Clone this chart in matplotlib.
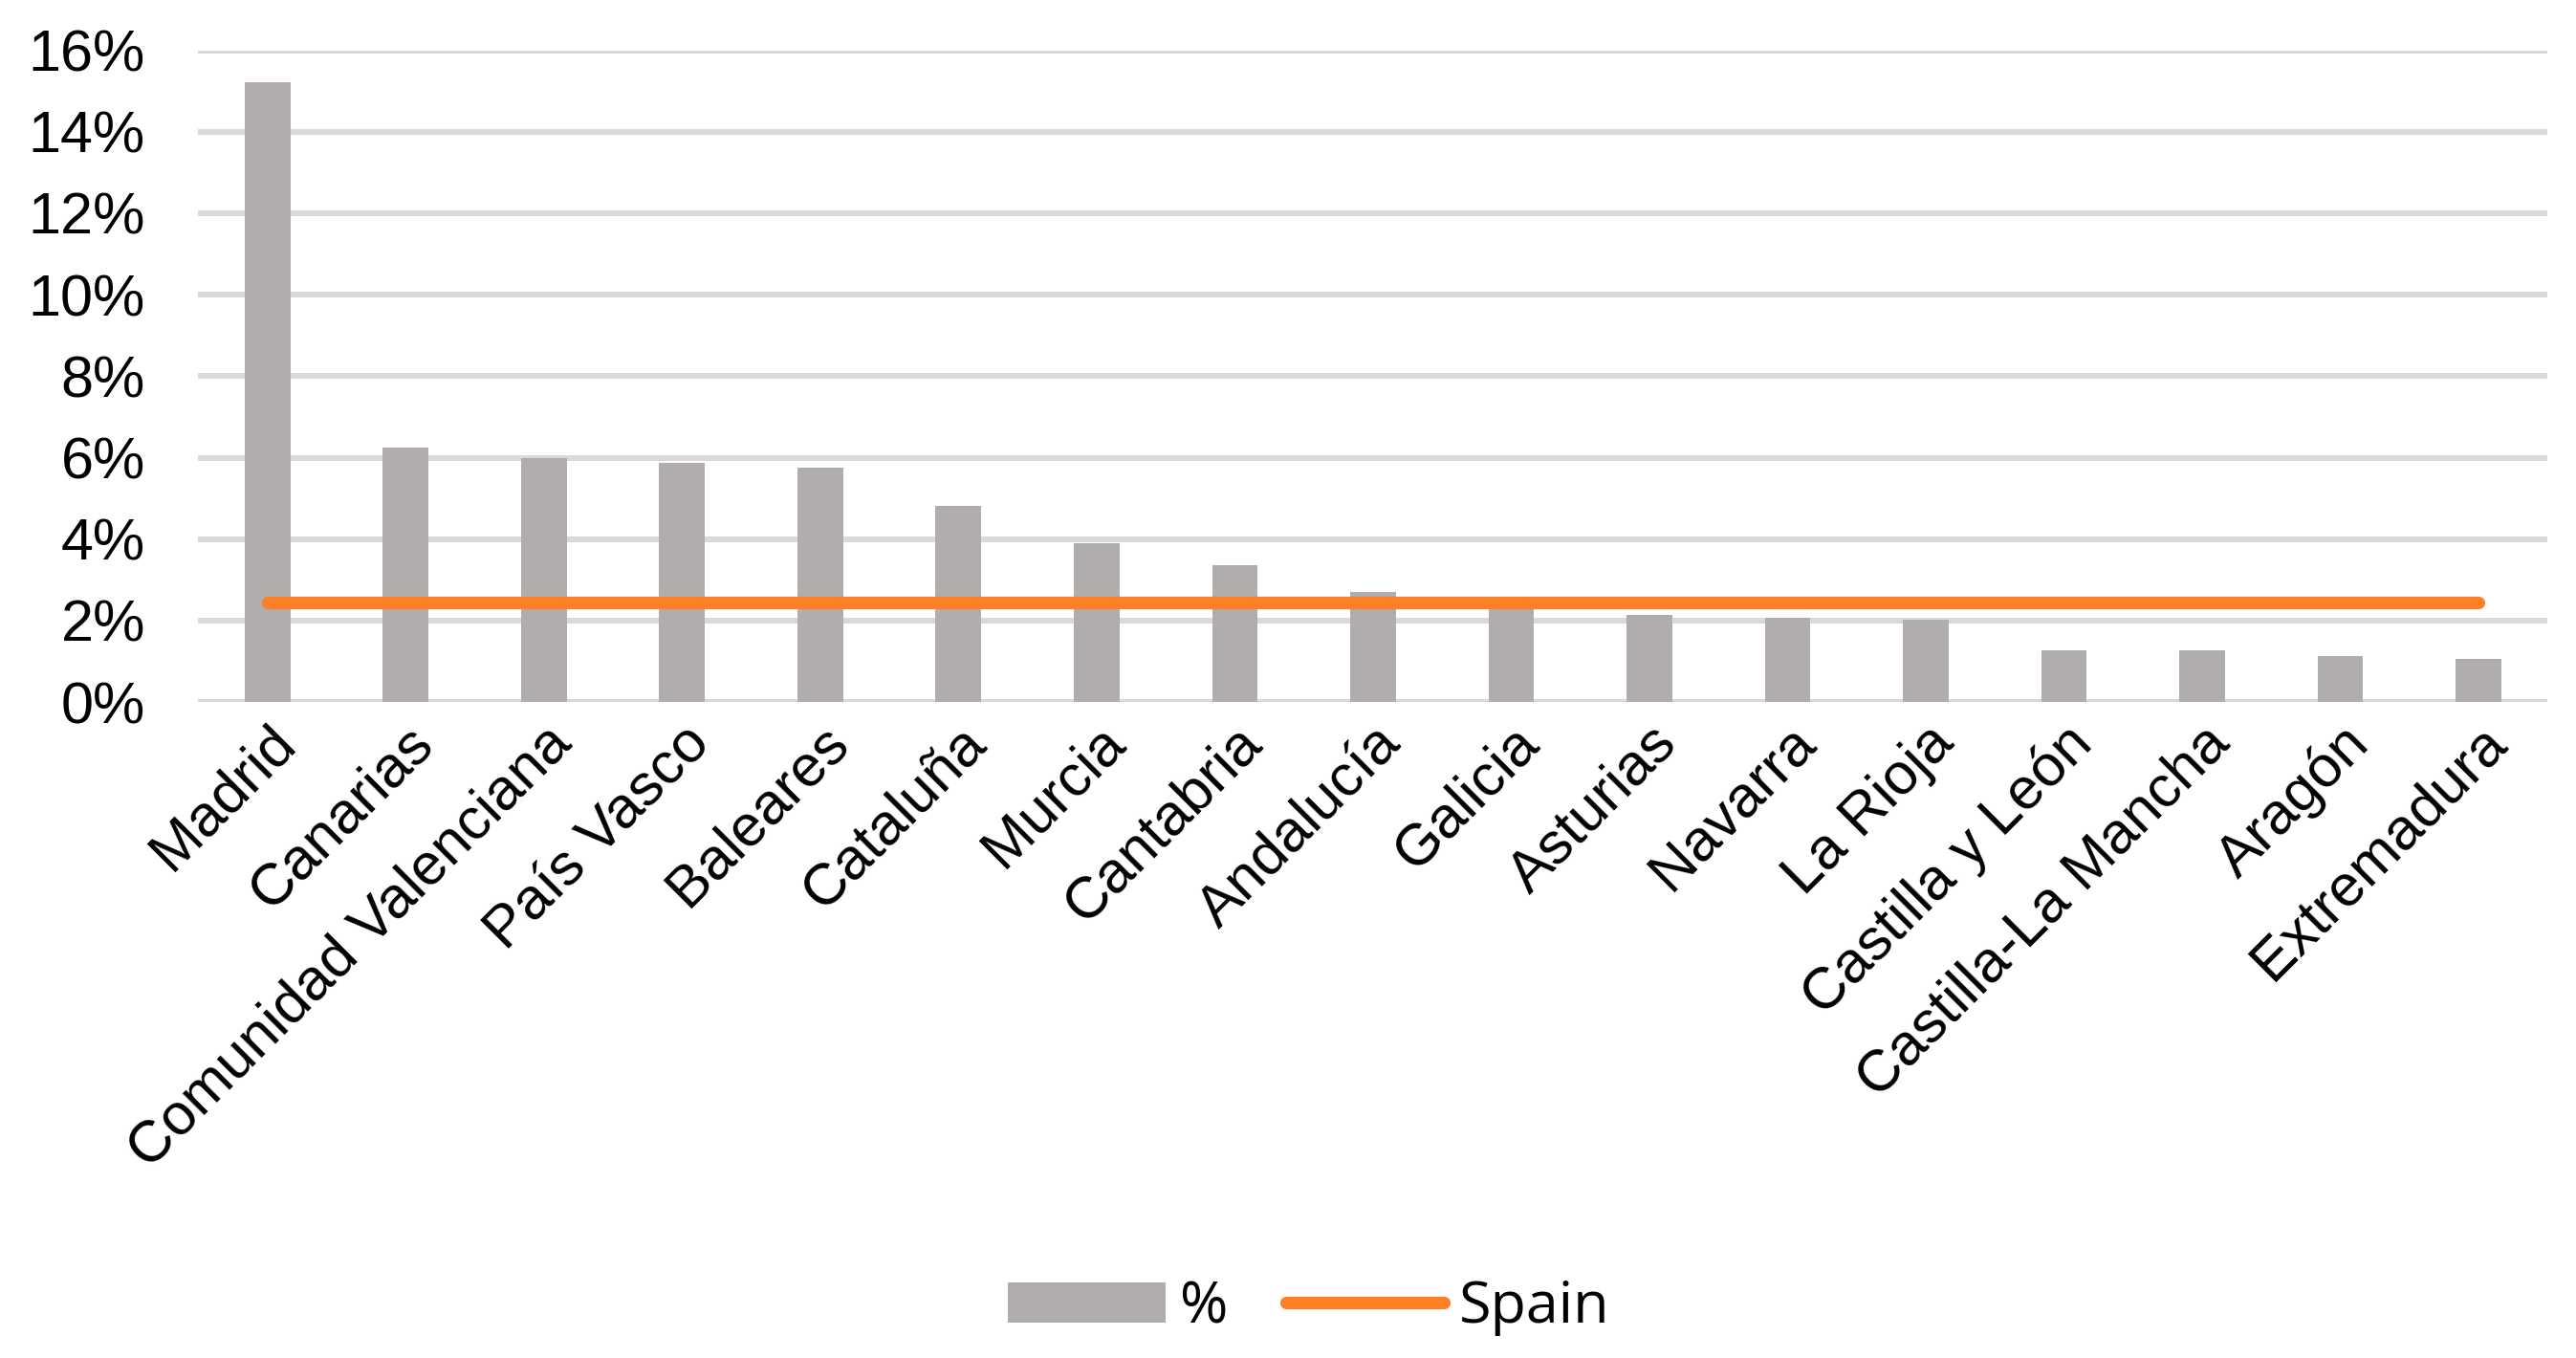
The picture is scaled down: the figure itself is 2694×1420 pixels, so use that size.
import matplotlib
matplotlib.use("Agg")
import matplotlib.pyplot as plt
from matplotlib.ticker import FuncFormatter

# Regions and their share (%)
regions = ["Madrid", "Canarias", "Comunidad Valenciana", "País Vasco", "Baleares",
           "Cataluña", "Murcia", "Cantabria", "Andalucía", "Galicia", "Asturias",
           "Navarra", "La Rioja", "Castilla y León", "Castilla-La Mancha", "Aragón",
           "Extremadura"]
pct = [15.22, 6.24, 5.99, 5.87, 5.75, 4.82, 3.89, 3.36, 2.70, 2.42, 2.15,
       2.08, 2.03, 1.28, 1.28, 1.13, 1.06]
spain = [2.44] * len(regions)
yticks = [0, 2, 4, 6, 8, 10, 12, 14, 16]

plt.rcParams['font.family'] = ['Liberation Sans', 'DejaVu Sans']

fig = plt.figure(figsize=(26.94, 14.2), dpi=100)
ax = fig.add_axes([0.077, 0.483, 0.912, 0.48])

x = list(range(len(regions)))
bars = ax.bar(x, pct, width=0.33, color='#b0adac', label='%', zorder=2)
line, = ax.plot(x, spain, color='#ff7f27', linewidth=9.5, solid_capstyle='round',
                label='Spain', zorder=3)

ax.set_xlim(-0.5, len(regions) - 0.5)
ax.set_ylim(0, 16)
ax.set_yticks(yticks)
ax.yaxis.set_major_formatter(FuncFormatter(lambda v, p: f"{v:.0f}%"))
ax.grid(axis='y', color='#d9d9d9', linewidth=4.3, zorder=0)
ax.set_axisbelow(True)
for s in ax.spines.values():
    s.set_visible(False)
ax.tick_params(axis='both', length=0, labelsize=44)
ax.tick_params(axis='y', pad=40)
ax.set_xticks(x)
ax.set_xticklabels(regions, rotation=45, ha='right', rotation_mode='anchor')
ax.tick_params(axis='x', pad=10)

fig.legend(handles=[bars, line], labels=['%', 'Spain'], loc='center',
           bbox_to_anchor=(0.508, 0.037), ncol=2, frameon=False,
           prop={'family': 'Open Sans', 'size': 44},
           handlelength=2.7, handleheight=0.7, handletextpad=0.25,
           columnspacing=1.0)

fig.savefig("out.png", dpi=100)
